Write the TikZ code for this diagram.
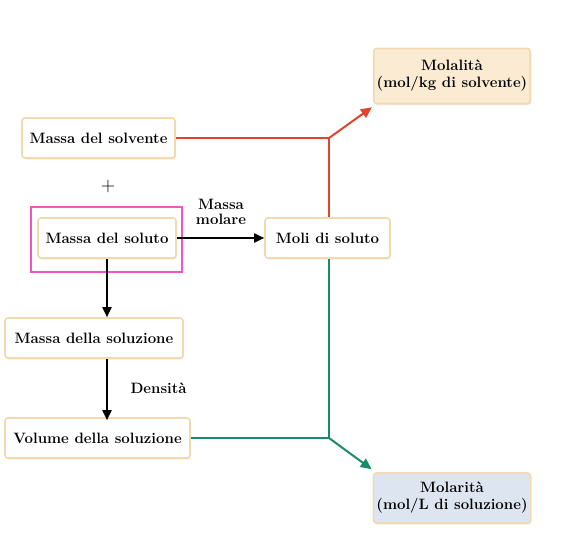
\documentclass[tikz,border=0pt]{standalone}
\usepackage{fontspec}
\usetikzlibrary{arrows.meta,shadows}
\definecolor{boxline}{HTML}{F1D9B0}
\definecolor{molalfill}{HTML}{FBEBD2}
\definecolor{molarfill}{HTML}{DDE6F0}
\definecolor{redline}{HTML}{E0452B}
\definecolor{greenline}{HTML}{1B8A6B}
\definecolor{pinkbox}{HTML}{F155C4}
\tikzset{
  cbox/.style={draw=boxline, line width=1.6pt, fill=white, rounded corners=3pt,
    minimum height=40pt, inner sep=3pt, font=\bfseries\fontsize{15}{17}\selectfont,
    drop shadow={shadow xshift=1pt, shadow yshift=-1.5pt, opacity=0.25, fill=boxline!80!black}},
  rbox/.style={cbox, align=center, minimum width=156pt, minimum height=55pt},
  blk/.style={line width=1.8pt, -{Triangle[length=10pt,width=9pt]}},
  lbl/.style={font=\bfseries\fontsize{15}{15}\selectfont, align=center},
  red conn/.style={draw=redline, line width=2pt},
  green conn/.style={draw=greenline, line width=2pt},
}
\begin{document}
\begin{tikzpicture}[x=1pt,y=-1pt]
\useasboundingbox (0,0) rectangle (566,539);
\node[rbox, fill=molalfill] (molal) at (452,76) {Molalità\\(mol/kg di solvente)};
\node[cbox, minimum width=153pt] (solv) at (98.5,138) {Massa del solvente};
\node[font=\fontsize{20}{20}\selectfont] (plus) at (108,187) {+};
\node[draw=pinkbox, line width=2.6pt, minimum width=151pt, minimum height=65pt] (pink) at (106.5,239.5) {};
\node[cbox, minimum width=138pt] (solu) at (107,238) {Massa del soluto};
\node[cbox, minimum width=125pt] (moli) at (327.5,238) {Moli di soluto};
\node[cbox, minimum width=178pt] (msol) at (94,338) {Massa della soluzione};
\node[cbox, minimum width=185pt] (vol) at (97.5,438) {Volume della soluzione};
\node[rbox, fill=molarfill, minimum height=50pt] (molar) at (452,498) {Molarità\\(mol/L di soluzione)};
\node[lbl] (mm) at (221,212) {Massa\\molare};
\node[lbl, anchor=west] (dens) at (127,388) {Densità};
\coordinate (rj) at (329,138);
\coordinate (gj) at (329,438);
\draw[blk] (solu.east) -- (moli.west);
\draw[blk] (solu.south) -- (solu.south |- msol.north);
\draw[blk] (solu.south |- msol.south) -- ([yshift=-3pt]solu.south |- vol.north);
\draw[red conn] (solv.east) -- (rj);
\draw[red conn] (moli.north -| rj) -- (rj);
\draw[red conn, -{Triangle[length=11pt,width=10pt]}] (rj) -- ([shift={(-1pt,-3pt)}]molal.south west);
\draw[green conn] (vol.east) -- (gj);
\draw[green conn] (moli.south -| gj) -- (gj);
\draw[green conn, -{Triangle[length=11pt,width=10pt]}] (gj) -- ([shift={(-1pt,3pt)}]molar.north west);
\end{tikzpicture}
\end{document}
